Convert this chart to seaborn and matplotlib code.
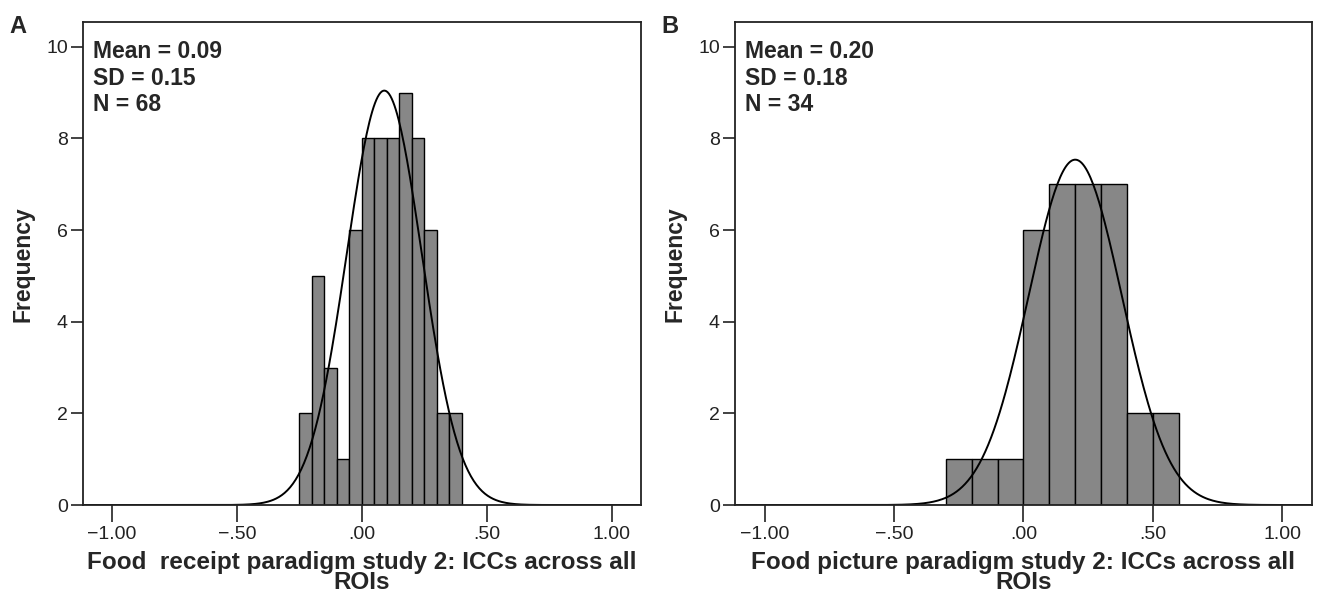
import numpy as np
import pandas as pd
import matplotlib
matplotlib.use('Agg')
import matplotlib.pyplot as plt
import seaborn as sns

# Panel A: food receipt paradigm, bins of width .05
edges_a = [-0.25, -0.20, -0.15, -0.10, -0.05, 0.00, 0.05, 0.10, 0.15, 0.20, 0.25, 0.30, 0.35, 0.40]
counts_a = [2, 5, 3, 1, 6, 8, 8, 8, 9, 8, 6, 2, 2]
stats_a = {'mean': 0.09, 'sd': 0.15, 'n': 68}
xlabel_a = 'Food  receipt paradigm study 2: ICCs across all\nROIs'

# Panel B: food picture paradigm, bins of width .10
edges_b = [-0.30, -0.20, -0.10, 0.00, 0.10, 0.20, 0.30, 0.40, 0.50, 0.60]
counts_b = [1, 1, 1, 6, 7, 7, 7, 2, 2]
stats_b = {'mean': 0.20, 'sd': 0.18, 'n': 34}
xlabel_b = 'Food picture paradigm study 2: ICCs across all\nROIs'

x_ticks = [-1.0, -0.5, 0.0, 0.5, 1.0]
x_ticklabels = ['\u22121.00', '\u2212.50', '.00', '.50', '1.00']
y_ticks = [0, 2, 4, 6, 8, 10]

sns.set_style('white')
plt.rcParams['font.family'] = ['Liberation Sans', 'DejaVu Sans']

fig = plt.figure(figsize=(13.18, 5.98), dpi=100)
ax_a = fig.add_axes([0.063, 0.1555, 0.423, 0.807])
ax_b = fig.add_axes([0.5577, 0.1555, 0.4377, 0.807])


def draw_panel(ax, edges, counts, stats, xlabel, letter):
    e = np.array(edges)
    df = pd.DataFrame({'icc': (e[:-1] + e[1:]) / 2, 'count': counts})
    sns.histplot(data=df, x='icc', weights='count', bins=list(edges), color='#878787',
                 edgecolor='black', linewidth=1.0, alpha=1, ax=ax)
    # fitted normal curve from the reported mean / SD
    bw = e[1] - e[0]
    xs = np.linspace(-1.11, 1.11, 400)
    ys = stats['n'] * bw * np.exp(-0.5 * ((xs - stats['mean']) / stats['sd']) ** 2) / (stats['sd'] * np.sqrt(2 * np.pi))
    sns.lineplot(x=xs, y=ys, color='black', linewidth=1.4, ax=ax)

    ax.set_xlim(-1.115, 1.115)
    ax.set_ylim(0, 10.53)
    ax.set_xticks(x_ticks)
    ax.set_xticklabels(x_ticklabels)
    ax.set_yticks(y_ticks)
    ax.tick_params(axis='both', direction='out', labelsize=14, colors='#222222',
                   length=9, width=1.2, bottom=True, left=True, pad=2)
    ax.tick_params(axis='x', length=12, pad=3)
    ax.set_xlabel(xlabel, fontsize=17.5, fontweight='bold', linespacing=0.85, labelpad=6)
    ax.set_ylabel('Frequency', fontsize=16.5, fontweight='bold', labelpad=8)
    for s in ax.spines.values():
        s.set_visible(True)
        s.set_color('#222222')
        s.set_linewidth(1.3)

    txt = 'Mean = %.2f\nSD = %.2f\nN = %d' % (stats['mean'], stats['sd'], stats['n'])
    ax.text(0.018, 0.963, txt, transform=ax.transAxes, ha='left', va='top',
            fontsize=16.5, fontweight='bold', linespacing=1.2)
    fig.text(ax.get_position().x0 - 0.056, 0.945, letter, fontsize=17, fontweight='bold')


draw_panel(ax_a, edges_a, counts_a, stats_a, xlabel_a, 'A')
draw_panel(ax_b, edges_b, counts_b, stats_b, xlabel_b, 'B')

fig.savefig('out.png', dpi=100)
